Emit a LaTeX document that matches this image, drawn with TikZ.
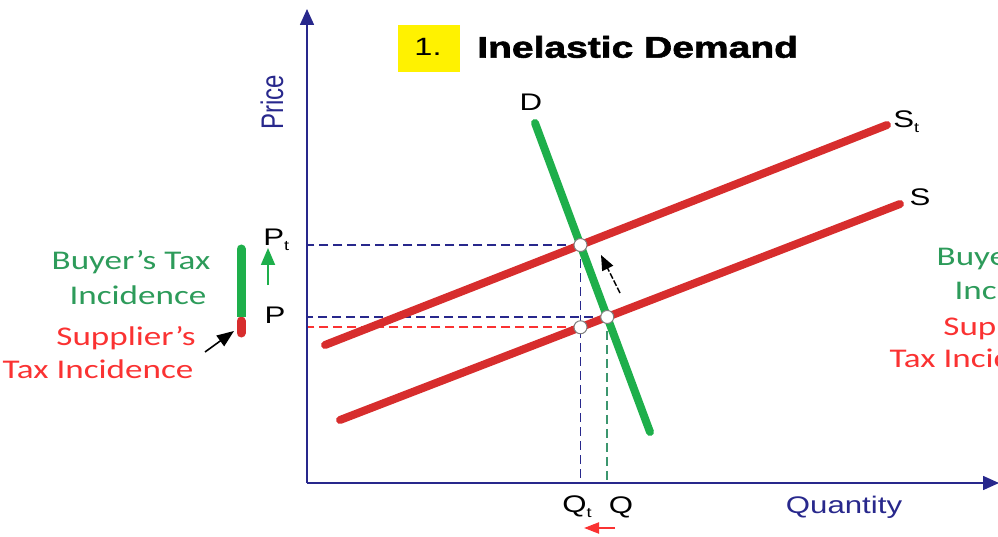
\documentclass[tikz,border=0pt]{standalone}
\usepackage{fontspec}
\setmainfont{Liberation Sans}
\newfontfamily\calib{Carlito}
\newfontfamily\heavy[FakeBold=1.6]{Liberation Sans Bold}
\usetikzlibrary{arrows.meta,calc}
\definecolor{navy}{RGB}{40,40,140}
\definecolor{dgreen}{RGB}{30,175,75}
\definecolor{sred}{RGB}{215,45,45}
\definecolor{tgreen}{RGB}{45,155,90}
\definecolor{tred}{RGB}{250,50,50}
\definecolor{vgreen}{RGB}{60,150,110}
\newcommand\lowsub[1]{\raisebox{-0.22em}{\fontsize{14}{14}\selectfont #1}}
\begin{document}
\begin{tikzpicture}[x=1pt,y=-1pt,
 wide/.style={xscale=1.3, inner sep=0pt},
 axisline/.style={navy, line width=1.6pt, -{Triangle[length=16pt,width=14pt]}},
 supply/.style={sred, line width=8pt, line cap=round},
 demand/.style={dgreen, line width=8pt, line cap=round},
 guide/.style={navy, dash pattern=on 9pt off 5pt, line width=1.6pt},
 dot/.style={circle, draw=gray, fill=white, line width=1pt, minimum size=13pt, inner sep=0pt},
 lab/.style={wide, font=\fontsize{24}{24}\selectfont},
 inc/.style={wide, font=\calib\fontsize{27}{30}\selectfont}
]
\useasboundingbox (0,0) rectangle (998,537);
% axes
\coordinate (O) at (307,483);
\coordinate (Ytop) at (307,9);
\coordinate (Xend) at (999,483);
% curves
\coordinate (d1) at (535,123);
\coordinate (d2) at (650,432);
\coordinate (t1) at (325,345);
\coordinate (t2) at (887,125);
\coordinate (s1) at (340,420);
\coordinate (s2) at (900,204);
\coordinate (Et) at (intersection of d1--d2 and t1--t2);
\coordinate (E) at (intersection of d1--d2 and s1--s2);
\coordinate (Qtb) at (Et |- O);
\coordinate (Eq) at (intersection of s1--s2 and Et--Qtb);

% guides
\draw[guide] (Et) -- (Et -| O);
\draw[guide] (Et) -- (Qtb);
\draw[guide] (E) -- (E -| O);
\draw[guide, tred, line width=1.8pt] (Eq) -- (Eq -| O);
\draw[guide, vgreen] (E) -- (E |- O);

\draw[axisline] (O) -- (Ytop);
\draw[axisline] (O) -- (Xend);

\draw[supply] (t1) -- (t2);
\draw[supply] (s1) -- (s2);
\draw[demand] (d1) -- (d2);

\node[dot] (dEt) at (Et) {};
\node[dot] (dE) at (E) {};
\node[dot] (dEq) at (Eq) {};

% small shift arrow
\coordinate (sa1) at (620,293);
\coordinate (sa2) at (601,255);
\draw[black, line width=1.5pt, dash pattern=on 6pt off 2pt, -{Triangle[length=15pt,width=12pt]}] (sa1) -- (sa2);

% labels
\node[lab] (Dl) at (531,102) {D};
\node[lab, anchor=west] (Stl) at (893,122) {S\lowsub{t}};
\node[lab] (Sl) at (920,197) {S};
\node[lab, anchor=west] (Ptl) at (263,240) {P\lowsub{t}};
\node[lab] (Pl) at (275,315) {P};
\node[lab, anchor=west] (Qtl) at (562,507) {Q\lowsub{t}};
\node[lab] (Ql) at (621,507) {Q};
\node[lab, text=navy] (qty) at (844,507) {Quantity};
\node[text=navy, inner sep=0pt] (price) at (272,102) {\scalebox{1.3}[1]{\rotatebox{90}{\fontsize{24}{24}\selectfont Price}}};

% title
\fill[yellow] (398,25) rectangle (460,72);
\node[wide, font=\fontsize{25}{25}\selectfont] (num) at (428,47) {1.};
\node[wide, anchor=west, font=\heavy\fontsize{30}{30}\selectfont] (title) at (477,47) {Inelastic Demand};

% incidence bar
\draw[sred, line width=9pt, line cap=round] (241,321) -- (241,333);
\draw[dgreen, line width=9pt, line cap=round] (241,249) -- (241,305);
\draw[dgreen, line width=9pt] (241,300) -- (241,317);
\coordinate (ga1) at (268,285);
\coordinate (ga2) at (268,248);
\draw[dgreen, line width=1.8pt, -{Triangle[length=17pt,width=14pt]}] (ga1) -- (ga2);
\coordinate (ba1) at (205,352);
\coordinate (ba2) at (234,331);
\draw[black, line width=1.6pt, -{Triangle[length=17pt,width=13pt]}] (ba1) -- (ba2);
\coordinate (ra1) at (615,528);
\coordinate (ra2) at (584,528);
\draw[tred, line width=2.2pt, -{Triangle[length=15pt,width=11pt]}] (ra1) -- (ra2);

% incidence texts left
\node[inc, text=tgreen] (by1) at (131,262) {Buyer’s Tax};
\node[inc, text=tgreen] (by2) at (138,295) {Incidence};
\node[inc, text=tred] (su1) at (126,338) {Supplier’s};
\node[inc, text=tred] (su2) at (98,369) {Tax Incidence};
% incidence texts right (cut by the edge, as in the reference)
\node[inc, text=tgreen] (rby1) at (1016,258) {Buyer’s Tax};
\node[inc, text=tgreen] (rby2) at (1023,290) {Incidence};
\node[inc, text=tred] (rsu1) at (1013,328) {Supplier’s};
\node[inc, text=tred] (rsu2) at (985,358) {Tax Incidence};
\end{tikzpicture}
\end{document}
